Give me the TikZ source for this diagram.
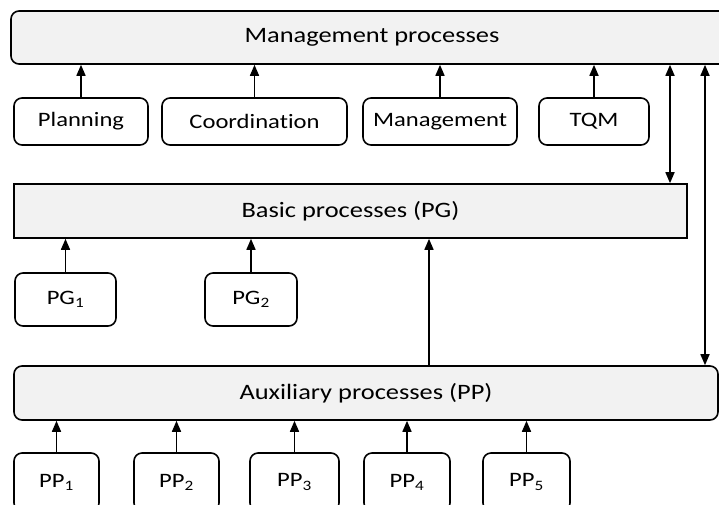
\documentclass[tikz,border=0pt]{standalone}
\usepackage{fontspec}
\setmainfont[FakeStretch=1.2, Ligatures={NoCommon}]{Carlito}
\usetikzlibrary{arrows.meta}

\definecolor{boxgray}{RGB}{242,242,242}

\tikzset{
  proc/.style={draw, line width=1.6pt, fill=boxgray, rounded corners=8pt,
    inner sep=0pt, minimum height=53pt, font=\fontsize{22}{24}\selectfont},
  part/.style={draw, line width=1.6pt, rounded corners=8pt, inner sep=0pt,
    font=\fontsize{20.5}{24}\selectfont},
  link/.style={line width=1.6pt, -{Triangle[length=11pt,width=9pt]}},
  both/.style={line width=1.6pt, {Triangle[length=11pt,width=9pt]}-{Triangle[length=11pt,width=9pt]}},
}

\begin{document}
\begin{tikzpicture}[x=1pt,y=-1pt]
\useasboundingbox (0,0) rectangle (719,504);
\clip (0,0) rectangle (719,504);

% main levels
\node[proc, minimum width=722pt] (mgmt) at (372,37.5) {Management processes};
\node[proc, rounded corners=0pt, minimum width=673pt, minimum height=54pt] (basic) at (350.5,211) {Basic processes (PG)};
\node[proc, minimum width=704pt, minimum height=54pt] (aux) at (366,393) {Auxiliary processes (PP)};

% management parts
\node[part, minimum width=134pt, minimum height=47pt] (plan) at (81,121.5) {Planning};
\node[part, minimum width=185pt, minimum height=47pt] (coord) at (254.5,121.5) {Coordinat\kern0pt ion};
\node[part, minimum width=154pt, minimum height=47pt] (manag) at (440,121.5) {Management};
\node[part, minimum width=110pt, minimum height=47pt] (tqm) at (594,121.5) {TQM};

% basic parts
\node[part, minimum width=101pt, minimum height=53pt] (pg1) at (65.5,299.5) {PG\textsubscript{1}};
\node[part, minimum width=92pt, minimum height=53pt] (pg2) at (251,299.5) {PG\textsubscript{2}};

% auxiliary parts
\node[part, minimum width=85pt, minimum height=58pt] (pp1) at (56.5,482) {PP\textsubscript{1}};
\node[part, minimum width=85pt, minimum height=58pt] (pp2) at (176.5,482) {PP\textsubscript{2}};
\node[part, minimum width=89pt, minimum height=58pt] (pp3) at (294.5,482) {PP\textsubscript{3}};
\node[part, minimum width=86pt, minimum height=58pt] (pp4) at (407,482) {PP\textsubscript{4}};
\node[part, minimum width=87pt, minimum height=58pt] (pp5) at (526.5,482) {PP\textsubscript{5}};

\coordinate (up) at (429,0);
\coordinate (r1) at (670,0);
\coordinate (r2) at (705,0);

\foreach \n in {plan,coord,manag,tqm}
  \draw[link] (\n.north) -- (\n.north |- mgmt.south);
\foreach \n in {pg1,pg2}
  \draw[link] (\n.north) -- (\n.north |- basic.south);
\foreach \n in {pp1,pp2,pp3,pp4,pp5}
  \draw[link] (\n.north) -- (\n.north |- aux.south);

\draw[link] (aux.north -| up) -- (basic.south -| up);
\draw[both] (mgmt.south -| r1) -- (basic.north -| r1);
\draw[both] (mgmt.south -| r2) -- (aux.north -| r2);
\end{tikzpicture}
\end{document}
